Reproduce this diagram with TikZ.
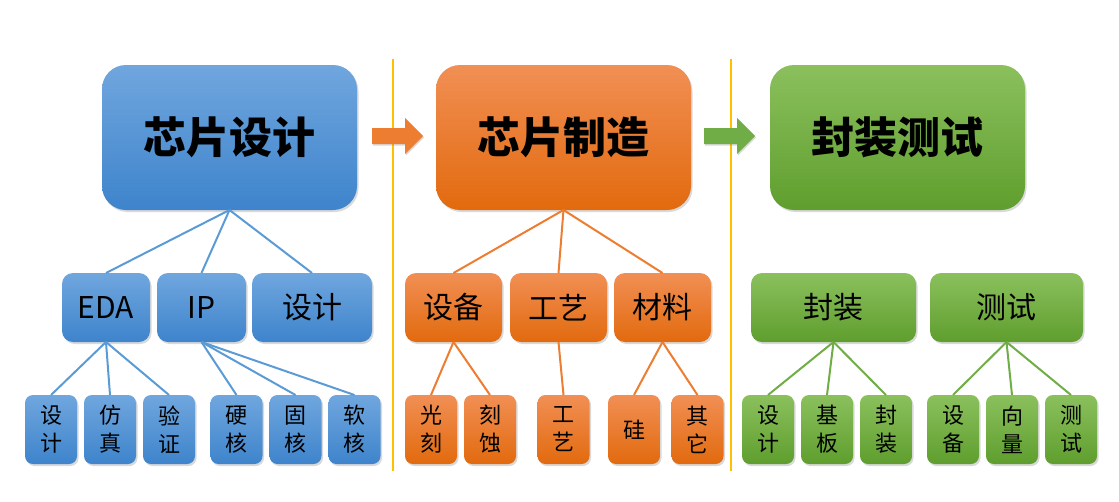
\documentclass[tikz,border=0pt]{standalone}
\usepackage{fontspec}
\newfontfamily\cjk{Noto Sans CJK SC}
\usepackage{tikz}
\usetikzlibrary{shadows, positioning}
\definecolor{bluT}{RGB}{112,166,222}
\definecolor{bluB}{RGB}{62,132,204}
\definecolor{bluL}{RGB}{91,155,213}
\definecolor{orgT}{RGB}{241,143,84}
\definecolor{orgB}{RGB}{226,106,14}
\definecolor{orgL}{RGB}{237,125,49}
\definecolor{grnT}{RGB}{139,192,93}
\definecolor{grnB}{RGB}{95,158,46}
\definecolor{grnL}{RGB}{112,173,71}
\definecolor{sepY}{RGB}{255,192,0}

\begin{document}
\begin{tikzpicture}[x=1pt, y=-1pt, font=\cjk,
    box/.style={inner sep=0pt, outer sep=0pt, align=center, text=black,
      drop shadow={shadow xshift=1.5pt, shadow yshift=-2pt, opacity=0.3}},
    topbox/.style={box, rounded corners=24pt, minimum width=255pt, minimum height=145pt,
      font=\cjk\fontsize{43}{50}\selectfont\bfseries},
    midbox/.style={box, rounded corners=11pt, minimum height=69pt,
      font=\cjk\fontsize{30}{36}\selectfont},
    leafbox/.style={box, rounded corners=8pt, minimum width=52pt, minimum height=69pt,
      font=\cjk\fontsize{22}{28}\selectfont},
    blu/.style={top color=bluT, bottom color=bluB},
    org/.style={top color=orgT, bottom color=orgB},
    grn/.style={top color=grnT, bottom color=grnB},
    link/.style={line width=2pt},
    sep/.style={draw=sepY, line width=1.6pt},
    blockarrow/.style={drop shadow={shadow xshift=1pt, shadow yshift=-1.5pt, opacity=0.3}}]
    \useasboundingbox (0,0) rectangle (1119,501);

    % separators
    \coordinate (s1t) at (393,59);  \coordinate (s1b) at (393,471);
    \coordinate (s2t) at (731,59);  \coordinate (s2b) at (731,471);
    \draw[sep] (s1t) -- (s1b);
    \draw[sep] (s2t) -- (s2b);

    % top row
    \node[topbox, blu] (design) at (229.5,137.5) {芯片设计};
    \node[topbox, org] (fab) at (563.5,137.5) {芯片制造};
    \node[topbox, grn] (pack) at (897.5,137.5) {封装测试};

    % block arrows between the stages
    \coordinate (arrA) at (372,136);
    \coordinate (arrB) at (704,136);
    \fill[blockarrow, orgL] (arrA) ++(0,-8) -- ++(33,0) -- ++(0,-10) -- ++(18,18)
      -- ++(-18,18) -- ++(0,-10) -- ++(-33,0) -- cycle;
    \fill[blockarrow, grnL] (arrB) ++(0,-8) -- ++(33,0) -- ++(0,-10) -- ++(18,18)
      -- ++(-18,18) -- ++(0,-10) -- ++(-33,0) -- cycle;

    % middle row
    \node[midbox, blu, minimum width=88pt] (eda) at (106,307.5) {EDA};
    \node[midbox, blu, minimum width=89pt, right=7pt of eda] (ip) {IP};
    \node[midbox, blu, minimum width=120pt, right=6pt of ip] (dsn) {设计};
    \node[midbox, org, minimum width=97pt] (equip) at (453.5,307.5) {设备};
    \node[midbox, org, minimum width=97pt, right=8pt of equip] (proc) {工艺};
    \node[midbox, org, minimum width=97pt, right=7pt of proc] (mat) {材料};
    \node[midbox, grn, minimum width=165pt] (pkg) at (833.5,307.5) {封装};
    \node[midbox, grn, minimum width=153pt] (tst) at (1006.5,307.5) {测试};

    % leaves
    \node[leafbox, blu] (e1) at (51,429.5) {设\\计};
    \node[leafbox, blu, right=7pt of e1] (e2) {仿\\真};
    \node[leafbox, blu, right=7pt of e2] (e3) {验\\证};
    \node[leafbox, blu] (i1) at (236.5,429.5) {硬\\核};
    \node[leafbox, blu, right=7pt of i1] (i2) {固\\核};
    \node[leafbox, blu, right=7pt of i2] (i3) {软\\核};
    \node[leafbox, org] (q1) at (431,429.5) {光\\刻};
    \node[leafbox, org, right=7pt of q1] (q2) {刻\\蚀};
    \node[leafbox, org] (p1) at (563.5,429.5) {工\\艺};
    \node[leafbox, org] (m1) at (634,429.5) {硅};
    \node[leafbox, org] (m2) at (697.5,429.5) {其\\它};
    \node[leafbox, grn] (k1) at (768,429.5) {设\\计};
    \node[leafbox, grn, right=7pt of k1] (k2) {基\\板};
    \node[leafbox, grn, right=7pt of k2] (k3) {封\\装};
    \node[leafbox, grn] (t1) at (953,429.5) {设\\备};
    \node[leafbox, grn, right=7pt of t1] (t2) {向\\量};
    \node[leafbox, grn, right=7pt of t2] (t3) {测\\试};

    % links
    \foreach \c in {eda, ip, dsn} \draw[link, bluL] (design.south) -- (\c.north);
    \foreach \c in {e1, e2, e3} \draw[link, bluL] (eda.south) -- (\c.north);
    \foreach \c in {i1, i2, i3} \draw[link, bluL] (ip.south) -- (\c.north);
    \foreach \c in {equip, proc, mat} \draw[link, orgL] (fab.south) -- (\c.north);
    \foreach \c in {q1, q2} \draw[link, orgL] (equip.south) -- (\c.north);
    \draw[link, orgL] (proc.south) -- (p1.north);
    \foreach \c in {m1, m2} \draw[link, orgL] (mat.south) -- (\c.north);
    \foreach \c in {k1, k2, k3} \draw[link, grnL] (pkg.south) -- (\c.north);
    \foreach \c in {t1, t2, t3} \draw[link, grnL] (tst.south) -- (\c.north);
\end{tikzpicture}
\end{document}
